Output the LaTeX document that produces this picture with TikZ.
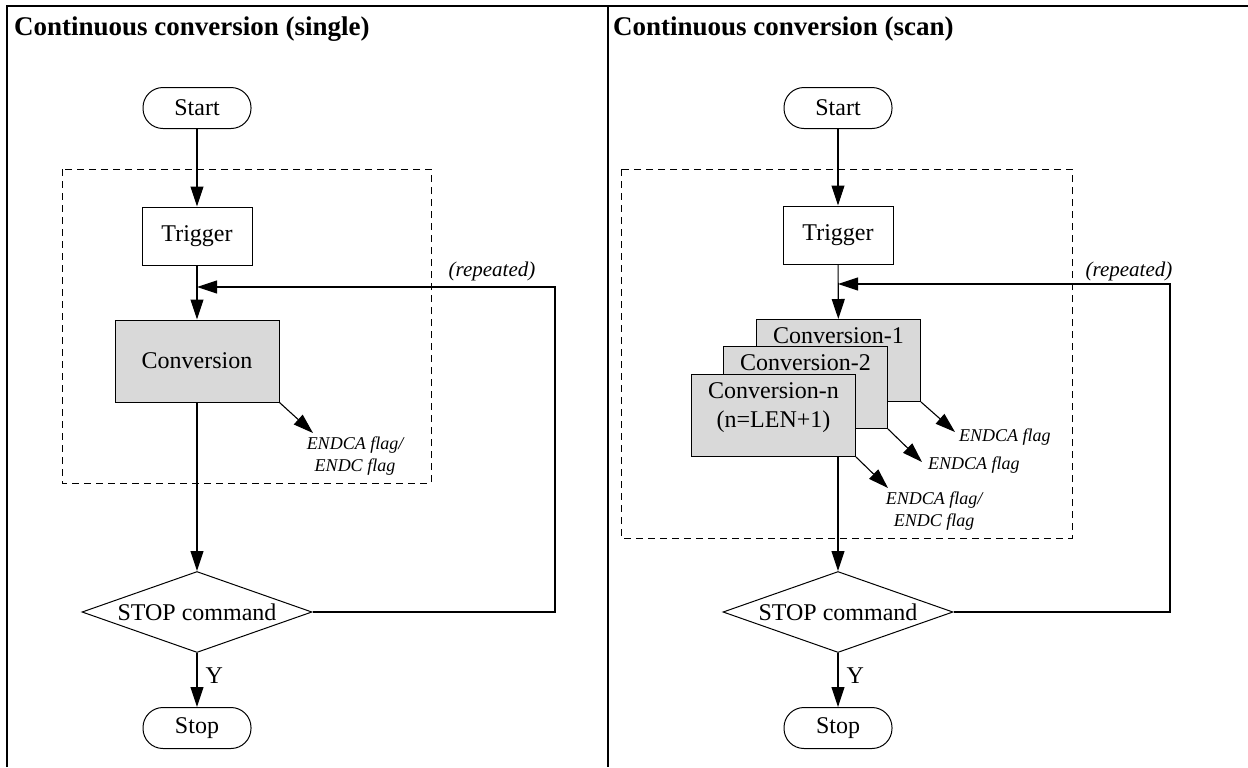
\documentclass[tikz,border=0pt]{standalone}
\usepackage{fontspec}
\setmainfont{Liberation Serif}
\usetikzlibrary{arrows.meta,calc,shapes.geometric}

\definecolor{convgray}{RGB}{217,217,217}

\begin{document}
\begin{tikzpicture}[x=0.5pt,y=-0.5pt,
  font=\fontsize{12}{14.5}\selectfont,
  flow/.style={draw, line width=0.55pt, -{Triangle[length=10pt,width=6.5pt]}},
  terminal/.style={draw, line width=0.5pt, rounded corners=10pt, minimum width=54pt, minimum height=20.5pt},
  procbox/.style={draw, line width=0.5pt, minimum width=55pt, minimum height=29pt},
  convbox/.style={draw, line width=0.5pt, fill=convgray, minimum width=82pt, minimum height=41pt},
  convtext/.style={anchor=north, inner sep=0pt, yshift=-4pt, align=center},
  decision/.style={diamond, draw, line width=0.5pt, inner sep=0pt, minimum width=115pt, minimum height=40.5pt},
  flagtext/.style={font=\fontsize{9}{11}\selectfont\itshape, align=center},
  looptext/.style={font=\fontsize{10.5}{12}\selectfont\itshape},
  title/.style={font=\fontsize{13.5}{16}\selectfont\bfseries, anchor=base west},
  group/.style={draw, line width=0.5pt, dash pattern=on 3.5pt off 2.5pt}
]

\useasboundingbox (0,0) rectangle (1248,767);

% Tabellenrahmen
\draw[line width=1pt] (7,767) -- (7,6) -- (1248,6);
\draw[line width=1pt] (608,6) -- (608,767);

% ------------------- Linke Spalte: single -------------------
\node[title] (title1) at (7,35) {Continuous conversion (single)};

\node[terminal] (start1) at (197,108) {Start};
\node[procbox]  (trig1)  at (197,236) {Trigger};
\node[convbox]  (conv1)  at (197,361) {Conversion};
\node[decision, label=center:STOP command] (dec1) at (197,612) {};
\node[terminal] (stop1)  at (197,728) {Stop};

\draw[group] (62,169) rectangle (431,483);

% Ablauf
\draw[flow] (start1) -- (trig1);
\draw[flow] (trig1) -- (conv1);
\draw[flow] (conv1) -- (dec1);
\draw[flow] (dec1) -- node[right, pos=0.42, inner sep=4pt] (yes1) {Y} (stop1);

% Rueckfuehrung
\coordinate (corner1) at (555,287);
\coordinate (join1) at (197,287);
\draw[flow] (dec1.east) -| (corner1) -- (join1);
\node[looptext] (rep1) at (492,271) {(repeated)};

% Flags
\coordinate (flag1) at (313,433);
\draw[flow] (conv1.south east) -- (flag1);
\node[flagtext] (flagtxt1) at (355,456) {ENDCA flag/\\ENDC flag};

% ------------------- Rechte Spalte: scan -------------------
\node[title] (title2) at (606,35) {Continuous conversion (scan)};

\node[terminal] (start2) at (838,108) {Start};
\node[procbox]  (trig2)  at (838,235) {Trigger};
\node[convbox, label={[convtext]north:Conversion-1}] (cv1) at (838.5,360.5) {};
\node[convbox, label={[convtext]north:Conversion-2}] (cv2) at (805.5,387.5) {};
\node[convbox, label={[convtext]north:{Conversion-n\\(n=LEN+1)}}] (cvn) at (773.5,415.5) {};
\node[decision, label=center:STOP command] (dec2) at (838,612) {};
\node[terminal] (stop2)  at (838,728) {Stop};

\draw[group] (621,169) rectangle (1072,538);

% Ablauf
\draw[flow] (start2) -- (trig2);
\draw[flow] (trig2) -- (cv1);
\draw[flow] (trig2 |- cvn.south) -- (dec2);
\draw[flow] (dec2) -- node[right, pos=0.42, inner sep=4pt] (yes2) {Y} (stop2);

% Rueckfuehrung
\coordinate (corner2) at (1170,284);
\coordinate (join2) at (838,284);
\draw[flow] (dec2.east) -| (corner2) -- (join2);
\node[looptext] (rep2) at (1129,271) {(repeated)};

% Flags
\coordinate (flag21) at (955,432);
\coordinate (flag22) at (922,462);
\coordinate (flag2n) at (888,488);
\draw[flow] (cv1.south east) -- (flag21);
\draw[flow] (cv2.south east) -- (flag22);
\draw[flow] (cvn.south east) -- (flag2n);
\node[flagtext, anchor=west] (flagtxt21) at (952,437) {ENDCA flag};
\node[flagtext, anchor=west] (flagtxt22) at (921,465) {ENDCA flag};
\node[flagtext] (flagtxt2n) at (934,511) {ENDCA flag/\\ENDC flag};

\end{tikzpicture}
\end{document}
